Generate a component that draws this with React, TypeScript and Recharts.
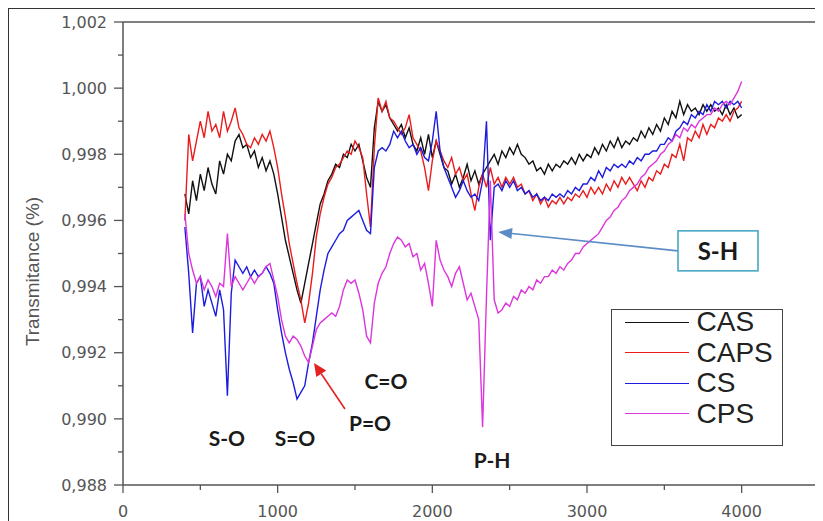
import React from 'react';
import { LineChart, Line, XAxis, YAxis, ReferenceLine, ReferenceDot, Legend } from 'recharts';

// wavenumber (cm-1)
const WAVENUMBER = [
  400, 425, 450, 475, 500, 525, 550, 575,
  600, 625, 650, 675, 700, 725, 750, 775,
  800, 825, 850, 875, 900, 925, 950, 975,
  1000, 1025, 1050, 1075, 1100, 1125, 1150, 1175,
  1200, 1225, 1250, 1275, 1300, 1325, 1350, 1375,
  1400, 1425, 1450, 1475, 1500, 1525, 1550, 1575,
  1600, 1625, 1650, 1675, 1700, 1725, 1750, 1775,
  1800, 1825, 1850, 1875, 1900, 1925, 1950, 1975,
  2000, 2025, 2050, 2075, 2100, 2125, 2150, 2175,
  2200, 2225, 2250, 2275, 2300, 2325, 2350, 2375,
  2400, 2425, 2450, 2475, 2500, 2525, 2550, 2575,
  2600, 2625, 2650, 2675, 2700, 2725, 2750, 2775,
  2800, 2825, 2850, 2875, 2900, 2925, 2950, 2975,
  3000, 3025, 3050, 3075, 3100, 3125, 3150, 3175,
  3200, 3225, 3250, 3275, 3300, 3325, 3350, 3375,
  3400, 3425, 3450, 3475, 3500, 3525, 3550, 3575,
  3600, 3625, 3650, 3675, 3700, 3725, 3750, 3775,
  3800, 3825, 3850, 3875, 3900, 3925, 3950, 3975,
  4000,
];

const CAS = [
  0.9968, 0.9962, 0.9972, 0.9966, 0.9974, 0.9969, 0.9976, 0.9971,
  0.9968, 0.9978, 0.9974, 0.9980, 0.9978, 0.9984, 0.9986, 0.9982,
  0.9983, 0.9979, 0.9981, 0.9976, 0.9979, 0.9975, 0.9978, 0.9974,
  0.9968, 0.9961, 0.9954, 0.9949, 0.9944, 0.9939, 0.9935, 0.9941,
  0.9947, 0.9953, 0.9959, 0.9965, 0.9968, 0.9972, 0.9974, 0.9977,
  0.9976, 0.9980, 0.9979, 0.9983, 0.9981, 0.9983, 0.9978, 0.9973,
  0.9970, 0.9988, 0.9996, 0.9993, 0.9995, 0.9991, 0.9989, 0.9987,
  0.9989, 0.9985, 0.9988, 0.9983, 0.9981, 0.9985, 0.9980, 0.9986,
  0.9979, 0.9984, 0.9980, 0.9976, 0.9975, 0.9971, 0.9974, 0.9970,
  0.9973, 0.9977, 0.9972, 0.9975, 0.9971, 0.9974, 0.9976, 0.9978,
  0.9980, 0.9977, 0.9981, 0.9979, 0.9982, 0.9980, 0.9983, 0.9980,
  0.9979, 0.9977, 0.9978, 0.9975, 0.9976, 0.9974, 0.9977, 0.9975,
  0.9977, 0.9976, 0.9978, 0.9977, 0.9979, 0.9977, 0.9980, 0.9978,
  0.9980, 0.9979, 0.9982, 0.9980, 0.9983, 0.9981, 0.9984, 0.9982,
  0.9985, 0.9982, 0.9984, 0.9983, 0.9985, 0.9984, 0.9987, 0.9985,
  0.9988, 0.9986, 0.9989, 0.9987, 0.9991, 0.9989, 0.9993, 0.9991,
  0.9996, 0.9992, 0.9995, 0.9993, 0.9994, 0.9992, 0.9995, 0.9993,
  0.9995, 0.9993, 0.9994, 0.9992, 0.9995, 0.9992, 0.9994, 0.9991,
  0.9992,
];

const CAPS = [
  0.9960, 0.9986, 0.9978, 0.9984, 0.9990, 0.9985, 0.9993, 0.9987,
  0.9989, 0.9985, 0.9993, 0.9987, 0.9990, 0.9994, 0.9988, 0.9986,
  0.9983, 0.9982, 0.9985, 0.9983, 0.9986, 0.9984, 0.9987, 0.9982,
  0.9976, 0.9968, 0.9961, 0.9953, 0.9947, 0.9941, 0.9936, 0.9929,
  0.9935, 0.9944, 0.9955, 0.9962, 0.9967, 0.9971, 0.9973, 0.9976,
  0.9977, 0.9979, 0.9981, 0.9980, 0.9984, 0.9982, 0.9979, 0.9968,
  0.9958, 0.9982, 0.9997, 0.9993, 0.9996, 0.9991, 0.9990, 0.9988,
  0.9986, 0.9988, 0.9992, 0.9985, 0.9983, 0.9981, 0.9976, 0.9969,
  0.9978, 0.9984, 0.9981, 0.9978, 0.9976, 0.9979, 0.9974, 0.9976,
  0.9972, 0.9974, 0.9968, 0.9963, 0.9970, 0.9974, 0.9970, 0.9976,
  0.9971, 0.9973, 0.9970, 0.9973, 0.9971, 0.9973, 0.9970, 0.9971,
  0.9968, 0.9969, 0.9966, 0.9968, 0.9965, 0.9967, 0.9964, 0.9966,
  0.9965, 0.9967, 0.9965, 0.9967, 0.9966, 0.9968, 0.9967, 0.9969,
  0.9967, 0.9970, 0.9968, 0.9970, 0.9968, 0.9971, 0.9969, 0.9972,
  0.9970, 0.9973, 0.9971, 0.9973, 0.9971, 0.9969, 0.9972, 0.9970,
  0.9973, 0.9972, 0.9975, 0.9974, 0.9977, 0.9976, 0.9980, 0.9979,
  0.9983, 0.9978, 0.9985, 0.9984, 0.9987, 0.9985, 0.9989, 0.9986,
  0.9989, 0.9988, 0.9991, 0.9990, 0.9992, 0.9990, 0.9993, 0.9994,
  0.9996,
];

const CS = [
  0.9958, 0.9944, 0.9926, 0.9941, 0.9943, 0.9934, 0.9939, 0.9935,
  0.9931, 0.9939, 0.9933, 0.9907, 0.9938, 0.9948, 0.9946, 0.9944,
  0.9946, 0.9943, 0.9945, 0.9943, 0.9944, 0.9946, 0.9944, 0.9941,
  0.9933, 0.9926, 0.9920, 0.9915, 0.9911, 0.9906, 0.9908, 0.9910,
  0.9917, 0.9923, 0.9931, 0.9939, 0.9945, 0.9950, 0.9952, 0.9954,
  0.9956, 0.9957, 0.9960, 0.9961, 0.9962, 0.9963, 0.9960, 0.9957,
  0.9956, 0.9976, 0.9981, 0.9982, 0.9981, 0.9983, 0.9987, 0.9985,
  0.9987, 0.9984, 0.9982, 0.9983, 0.9980, 0.9982, 0.9979, 0.9978,
  0.9984, 0.9993, 0.9981, 0.9976, 0.9973, 0.9970, 0.9967, 0.9969,
  0.9972, 0.9969, 0.9967, 0.9968, 0.9966, 0.9972, 0.9990, 0.9954,
  0.9970, 0.9971, 0.9969, 0.9972, 0.9970, 0.9972, 0.9969, 0.9970,
  0.9968, 0.9969, 0.9967, 0.9968, 0.9966, 0.9967, 0.9966, 0.9968,
  0.9967, 0.9968, 0.9967, 0.9969, 0.9968, 0.9970, 0.9969, 0.9971,
  0.9971, 0.9973, 0.9972, 0.9975, 0.9973, 0.9976, 0.9975, 0.9977,
  0.9976, 0.9977, 0.9976, 0.9978, 0.9977, 0.9979, 0.9978, 0.9980,
  0.9980, 0.9981, 0.9981, 0.9983, 0.9983, 0.9985, 0.9984, 0.9987,
  0.9988, 0.9990, 0.9989, 0.9992, 0.9991, 0.9993, 0.9992, 0.9995,
  0.9993, 0.9996, 0.9995, 0.9996, 0.9994, 0.9996, 0.9995, 0.9996,
  0.9994,
];

const CPS = [
  0.9962, 0.9950, 0.9945, 0.9941, 0.9943, 0.9939, 0.9942, 0.9940,
  0.9937, 0.9941, 0.9940, 0.9956, 0.9940, 0.9943, 0.9941, 0.9939,
  0.9941, 0.9943, 0.9941, 0.9943, 0.9944, 0.9946, 0.9947, 0.9942,
  0.9937, 0.9930, 0.9925, 0.9923, 0.9925, 0.9924, 0.9922, 0.9919,
  0.9917, 0.9922, 0.9927, 0.9929, 0.9930, 0.9931, 0.9932, 0.9931,
  0.9934, 0.9939, 0.9942, 0.9941, 0.9942, 0.9938, 0.9933, 0.9925,
  0.9923, 0.9935, 0.9941, 0.9944, 0.9946, 0.9950, 0.9953, 0.9955,
  0.9954, 0.9952, 0.9953, 0.9949, 0.9950, 0.9945, 0.9947, 0.9941,
  0.9934, 0.9954, 0.9948, 0.9945, 0.9943, 0.9940, 0.9944, 0.9946,
  0.9941, 0.9936, 0.9938, 0.9934, 0.9930, 0.98975, 0.9937, 0.9972,
  0.9936, 0.9932, 0.9933, 0.9935, 0.9934, 0.9937, 0.9936, 0.9939,
  0.9938, 0.9940, 0.9939, 0.9942, 0.9941, 0.9943, 0.9943, 0.9945,
  0.9944, 0.9946, 0.9945, 0.9947, 0.9948, 0.9950, 0.9950, 0.9952,
  0.9953, 0.9954, 0.9955, 0.9956, 0.9958, 0.9960, 0.9961, 0.9963,
  0.9964, 0.9966, 0.9967, 0.9969, 0.9970, 0.9971, 0.9973, 0.9974,
  0.9976, 0.9977, 0.9978, 0.9980, 0.9981, 0.9983, 0.9984, 0.9986,
  0.9985, 0.9988, 0.9987, 0.9989, 0.9988, 0.9990, 0.9991, 0.9992,
  0.9992, 0.9994, 0.9993, 0.9995, 0.9996, 0.9995, 0.9997, 0.9999,
  1.0002,
];

const X_TICKS = [0, 500, 1000, 1500, 2000, 2500, 3000, 3500, 4000, 4500];
const Y_TICKS = [0.988, 0.989, 0.99, 0.991, 0.992, 0.993, 0.994, 0.995, 0.996, 0.997, 0.998, 0.999, 1.0, 1.001, 1.002];

const SERIES = [
  { key: 'CAS', color: '#111111' },
  { key: 'CAPS', color: '#ea1c1c' },
  { key: 'CS', color: '#1c1ce0' },
  { key: 'CPS', color: '#dd35dd' },
];

const data = WAVENUMBER.map((w, i) => ({ w, CAS: CAS[i], CAPS: CAPS[i], CS: CS[i], CPS: CPS[i] }));

const AXIS = '#555555';
const TICK_FONT = '"DejaVu Sans", Verdana, sans-serif';
const NOTE_FONT = 'Lato, "Open Sans", sans-serif';

const YTick = (props: any) => {
  const { x, y, payload } = props;
  const v = payload.value as number;
  const major = Math.round(v * 1000) % 2 === 0;
  return (
    <g>
      <line x1={x} x2={x - (major ? 9 : 5)} y1={y} y2={y} stroke={AXIS} strokeWidth={1.3} />
      {major && (
        <text x={x - 16} y={y} dy="0.36em" textAnchor="end" fontFamily={TICK_FONT} fontSize={16} fill="#555">
          {v.toFixed(3).replace('.', ',')}
        </text>
      )}
    </g>
  );
};

const XTick = (props: any) => {
  const { x, y, payload } = props;
  const v = payload.value as number;
  const major = v % 1000 === 0;
  return (
    <g>
      <line x1={x} x2={x} y1={y} y2={y + (major ? 8 : 5)} stroke={AXIS} strokeWidth={1.3} />
      {major && (
        <text x={x} y={y + 26} dy="0.36em" textAnchor="middle" fontFamily={TICK_FONT} fontSize={16} fill="#555">
          {v}
        </text>
      )}
    </g>
  );
};

const YLabel = (props: any) => {
  const vb = props.viewBox || { x: 0, y: 14, width: 115, height: 463 };
  const cx = vb.x + 24;
  const cy = vb.y + vb.height / 2 + 18;
  return (
    <text
      x={cx}
      y={cy}
      transform={`rotate(-90, ${cx}, ${cy})`}
      textAnchor="middle"
      dominantBaseline="central"
      fontFamily='"Liberation Sans", Arial, sans-serif'
      fontSize={19}
      fill="#555"
    >
      Transmitance (%)
    </text>
  );
};

const arrowShape = (color: string, len: number, half: number) => (props: any) => {
  const { x1, y1, x2, y2 } = props;
  if ([x1, y1, x2, y2].some((n) => typeof n !== 'number' || isNaN(n))) return <g />;
  const a = Math.atan2(y2 - y1, x2 - x1);
  const bx = x2 - len * Math.cos(a);
  const by = y2 - len * Math.sin(a);
  const px = -Math.sin(a) * half;
  const py = Math.cos(a) * half;
  return (
    <g>
      <line x1={x1} y1={y1} x2={bx} y2={by} stroke={color} strokeWidth={1.6} />
      <polygon points={`${x2},${y2} ${bx + px},${by + py} ${bx - px},${by - py}`} fill={color} />
    </g>
  );
};

const noteShape = (label: string) => (props: any) => (
  <text
    x={props.cx}
    y={props.cy}
    textAnchor="middle"
    dominantBaseline="central"
    fontFamily={NOTE_FONT}
    fontWeight={700}
    fontSize={21}
    fill="#1a1a1a"
  >
    {label}
  </text>
);

const boxShape = (label: string) => (props: any) => (
  <g>
    <rect x={props.cx - 40} y={props.cy - 20} width={80} height={40} fill="#fff" stroke="#4aa7c6" strokeWidth={1.6} />
    <text
      x={props.cx}
      y={props.cy}
      textAnchor="middle"
      dominantBaseline="central"
      fontFamily={NOTE_FONT}
      fontWeight={700}
      fontSize={24}
      fill="#1a1a1a"
    >
      {label}
    </text>
  </g>
);

const renderLegend = (props: any) => {
  const payload = (props.payload || []).slice();
  const order = SERIES.map((s) => s.key);
  payload.sort((a: any, b: any) => order.indexOf(a.value) - order.indexOf(b.value));
  return (
    <div
      style={{
        width: 172,
        height: 137,
        boxSizing: 'border-box',
        border: '1.5px solid #444',
        background: '#fff',
        position: 'relative',
      }}
    >
      {payload.map((e: any, i: number) => (
        <div
          key={e.value}
          style={{
            position: 'absolute',
            left: 12.5,
            top: 12 + i * 30.5 - 15,
            height: 30,
            display: 'flex',
            alignItems: 'center',
          }}
        >
          <div style={{ width: 64, height: 0, borderTop: `1.5px solid ${e.color}` }} />
          <span
            style={{
              marginLeft: 8,
              fontFamily: '"Liberation Sans", Arial, sans-serif',
              fontSize: 28,
              lineHeight: '30px',
              color: '#222',
            }}
          >
            {e.value}
          </span>
        </div>
      ))}
    </div>
  );
};

export default function App() {
  return (
    <div style={{ position: 'relative', width: 815, height: 513 }}>
      <LineChart width={815} height={513} data={data} margin={{ top: 14, right: 4, left: 0, bottom: 0 }}>
        <XAxis
          type="number"
          dataKey="w"
          domain={[0, 4500]}
          ticks={X_TICKS}
          interval={0}
          height={36}
          tickSize={0}
          tickMargin={0}
          tickLine={false}
          tick={<XTick />}
          axisLine={{ stroke: AXIS, strokeWidth: 1.5 }}
        />
        <YAxis
          type="number"
          domain={[0.988, 1.002]}
          ticks={Y_TICKS}
          interval={0}
          width={115}
          tickSize={0}
          tickMargin={0}
          tickLine={false}
          tick={<YTick />}
          axisLine={{ stroke: AXIS, strokeWidth: 1.5 }}
          label={YLabel}
        />
        <ReferenceLine y={1.002} stroke={AXIS} strokeWidth={1.3} />
        <ReferenceLine x={4500} stroke={AXIS} strokeWidth={1.3} />
        {SERIES.map((s) => (
          <Line
            key={s.key}
            type="linear"
            dataKey={s.key}
            name={s.key}
            stroke={s.color}
            strokeWidth={1.4}
            dot={false}
            isAnimationActive={false}
          />
        ))}
        <ReferenceLine
          segment={[{ x: 1435, y: 0.9903 }, { x: 1235, y: 0.99169 }]}
          shape={arrowShape('#e52222', 13, 6)}
        />
        <ReferenceLine
          segment={[{ x: 3588, y: 0.99508 }, { x: 2425, y: 0.99565 }]}
          shape={arrowShape('#5b8cc6', 14, 5.5)}
        />
        <ReferenceDot x={672} y={0.98945} r={0} shape={noteShape('S-O')} />
        <ReferenceDot x={1112} y={0.98945} r={0} shape={noteShape('S=O')} />
        <ReferenceDot x={1597} y={0.9899} r={0} shape={noteShape('P=O')} />
        <ReferenceDot x={1700} y={0.99117} r={0} shape={noteShape('C=O')} />
        <ReferenceDot x={2386} y={0.98876} r={0} shape={noteShape('P-H')} />
        <ReferenceDot x={3847} y={0.99508} r={0} shape={boxShape('S-H')} />
        <Legend
          layout="horizontal"
          verticalAlign="middle"
          align="center"
          itemSorter={null as any}
          content={renderLegend}
          wrapperStyle={{ left: 603, top: 301, width: 172, height: 137 }}
        />
      </LineChart>
      <div
        style={{
          position: 'absolute',
          left: 0,
          top: 0,
          width: 815,
          height: 513,
          borderLeft: '1.5px solid #333',
          borderTop: '1.5px solid #333',
          boxSizing: 'border-box',
          pointerEvents: 'none',
        }}
      />
    </div>
  );
}
